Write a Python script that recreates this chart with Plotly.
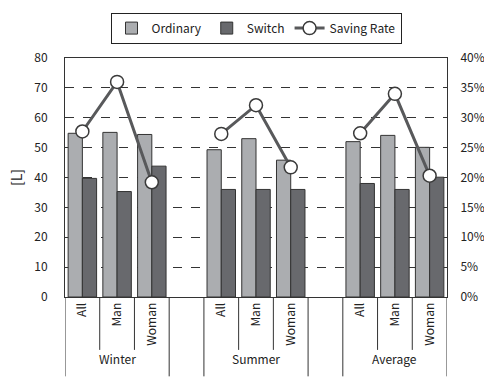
import plotly.graph_objects as go

# Chart data
seasons = ["Winter", "Summer", "Average"]
subgroups = ["All", "Man", "Woman"]
ordinary = [54.8, 55.1, 54.4, 49.3, 53.0, 45.8, 52.0, 54.1, 50.1]   # [L]
switch = [39.7, 35.3, 43.8, 36.0, 36.0, 36.0, 38.0, 36.0, 40.1]     # [L]
saving_rate = [0.277, 0.360, 0.192, 0.273, 0.321, 0.217, 0.274, 0.340, 0.203]
y_ticks = [0, 10, 20, 30, 40, 50, 60, 70, 80]

FONT = "Noto Sans CJK JP"
C_ORD = "#abadb0"
C_SW = "#68696d"
C_LINE = "#58595b"
EDGE = "#333333"

# Slot positions: three bars per season, one empty slot between seasons
slot = len(subgroups) + 1
xpos, xlab = [], []
for g, _ in enumerate(seasons):
    for i, s in enumerate(subgroups):
        xpos.append(g * slot + i)
        xlab.append(s)
n_slots = len(seasons) * slot - 1
x_min, x_max = -0.5, n_slots - 0.5

# Rate line broken between seasons
line_x, line_y = [], []
for g in range(len(seasons)):
    k = len(subgroups)
    line_x += xpos[g * k:(g + 1) * k] + [None]
    line_y += saving_rate[g * k:(g + 1) * k] + [None]

fig = go.Figure()
fig.add_trace(go.Bar(x=xpos, y=ordinary, name="Ordinary", marker=dict(color=C_ORD, line=dict(color=EDGE, width=1))))
fig.add_trace(go.Bar(x=xpos, y=switch, name="Switch", marker=dict(color=C_SW, line=dict(color=EDGE, width=1))))
fig.add_trace(go.Scatter(
    x=line_x, y=line_y, yaxis="y2", name="Saving Rate", mode="lines+markers",
    connectgaps=False,
    line=dict(color=C_LINE, width=3),
    marker=dict(symbol="circle", size=13, color="white", line=dict(color="#3a3a3a", width=1.5)),
))

# Category dividers below the axis
plot_h = 378 - 53 - 81
shapes = []
for g in range(len(seasons)):
    left = g * slot - 0.5
    right = g * slot + len(subgroups) - 0.5
    for b in (left, right):
        shapes.append(dict(type="line", xref="x", yref="paper", x0=b, x1=b, y0=0, y1=-81 / plot_h,
                           line=dict(color=EDGE, width=1)))
    for i in range(1, len(subgroups)):
        b = left + i
        shapes.append(dict(type="line", xref="x", yref="paper", x0=b, x1=b, y0=0, y1=-54 / plot_h,
                           line=dict(color=EDGE, width=1)))

annotations = []
for g, name in enumerate(seasons):
    annotations.append(dict(x=g * slot + 1, y=-73 / plot_h, xref="x", yref="paper", text=name,
                            showarrow=False, font=dict(family=FONT, size=12, color="#222")))

fig.update_layout(
    width=484, height=378,
    margin=dict(l=65, r=37, t=53, b=81),
    plot_bgcolor="white", paper_bgcolor="white",
    font=dict(family=FONT, size=12, color="#222"),
    barmode="group", bargap=0.18, bargroupgap=0,
    showlegend=True,
    legend=dict(orientation="h", x=0.5, xanchor="center", y=1.19, yanchor="top",
                bordercolor="#222", borderwidth=1, font=dict(size=12), traceorder="normal",
                itemwidth=30),
    xaxis=dict(range=[x_min, x_max], tickvals=xpos, ticktext=xlab, tickangle=-90,
               ticks="", showgrid=False, zeroline=False, automargin=False,
               showline=True, linecolor=EDGE, linewidth=1, mirror=True),
    yaxis=dict(range=[0, 80], tickvals=y_ticks, ticks="", showgrid=True,
               gridcolor="#333", griddash="dash", gridwidth=1, zeroline=False,
               showline=True, linecolor=EDGE, linewidth=1, ticklabelstandoff=14,
               automargin=False, title=dict(text="[L]", standoff=8)),
    yaxis2=dict(range=[0, 0.4], dtick=0.05, tickformat=".0%", overlaying="y", side="right",
                showgrid=False, zeroline=False, ticks="", ticklabelstandoff=10,
                automargin=False, showline=True, linecolor=EDGE, linewidth=1),
    shapes=shapes,
    annotations=annotations,
)

fig.write_html("out.html")
